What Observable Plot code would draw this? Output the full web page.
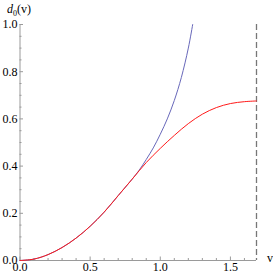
<!DOCTYPE html>
<html>
<head>
<meta charset="utf-8">
<script src="https://cdn.jsdelivr.net/npm/d3@7"></script>
<script src="https://cdn.jsdelivr.net/npm/@observablehq/plot@0.6"></script>
<style>
  html, body { margin: 0; padding: 0; background: #fff; }
</style>
</head>
<body>
<div id="chart"></div>
<script>
// Red curve (exact d0)
const vRed = [0, 0.1, 0.2, 0.3, 0.4, 0.5, 0.6, 0.7, 0.8, 0.9, 1.0, 1.1, 1.2, 1.3, 1.4, 1.5, 1.6, 1.686];
const dRed = [0, 0.006, 0.025, 0.055, 0.095, 0.145, 0.205, 0.275, 0.345, 0.415, 0.475, 0.53, 0.58, 0.62, 0.648, 0.665, 0.673, 0.676];
// Blue curve (approximation)
const vBlue = [0, 0.1, 0.2, 0.3, 0.4, 0.5, 0.6, 0.7, 0.8, 0.85, 0.9, 0.95, 1.0, 1.05, 1.1, 1.15, 1.2, 1.231];
const dBlue = [0, 0.006, 0.025, 0.055, 0.095, 0.145, 0.205, 0.275, 0.345, 0.383, 0.428, 0.477, 0.535, 0.6, 0.678, 0.775, 0.9, 1.0];

const vMax = 1.686;
const xMajor = [0, 0.5, 1.0, 1.5];
const xMinor = [0.1, 0.2, 0.3, 0.4, 0.6, 0.7, 0.8, 0.9, 1.1, 1.2, 1.3, 1.4, 1.6];
const yMajor = [0, 0.2, 0.4, 0.6, 0.8, 1.0];
const yMinor = [0.05, 0.1, 0.15, 0.25, 0.3, 0.35, 0.45, 0.5, 0.55, 0.65, 0.7, 0.75, 0.85, 0.9, 0.95];

const red = vRed.map((v, i) => ({v, d: dRed[i]}));
const blue = vBlue.map((v, i) => ({v, d: dBlue[i]}));

const serif = "'Liberation Serif', 'DejaVu Serif', serif";
const axisColor = "#9a9a9a";
const fmt = d3.format(".1f");

const chart = Plot.plot({
  width: 273,
  height: 278,
  marginLeft: 19.5,
  marginRight: 17,
  marginTop: 24,
  marginBottom: 18,
  style: {fontFamily: serif, fontSize: "12px", color: "#000", background: "#fff"},
  x: {domain: [0, vMax], axis: null},
  y: {domain: [0, 1], axis: null},
  marks: [
    Plot.ruleX([vMax], {stroke: "#777", strokeWidth: 1.3, strokeDasharray: "6,3"}),
    Plot.ruleY([0], {stroke: axisColor}),
    Plot.ruleX([0], {stroke: axisColor}),
    Plot.axisX({ticks: xMinor, tickSize: -2, tickFormat: () => "", stroke: axisColor, label: null}),
    Plot.axisX({ticks: xMajor, tickSize: -3.5, tickPadding: 5.5, tickFormat: fmt, stroke: axisColor, fill: "#000", fontFamily: serif, fontSize: 12, label: null}),
    Plot.axisY({ticks: yMinor, tickSize: -2, tickFormat: () => "", stroke: axisColor, label: null}),
    Plot.axisY({ticks: yMajor, tickSize: -3.5, tickPadding: 6, tickFormat: fmt, stroke: axisColor, fill: "#000", fontFamily: serif, fontSize: 12, label: null}),
    Plot.line(blue, {x: "v", y: "d", stroke: "#6868ba", strokeWidth: 1, curve: "catmull-rom"}),
    Plot.line(red, {x: "v", y: "d", stroke: "#ff1a1a", strokeWidth: 1, curve: "catmull-rom"})
  ]
});

const svg = d3.select(chart);
svg.style("overflow", "visible");
// y-axis label d0(v)
const yl = svg.append("text")
  .attr("x", 7).attr("y", 13)
  .attr("text-anchor", "start")
  .attr("font-family", serif)
  .attr("font-size", 12).attr("fill", "#000");
yl.append("tspan").attr("font-style", "italic").text("d");
yl.append("tspan").attr("font-size", 8).attr("dy", 3).text("0");
yl.append("tspan").attr("dy", -3).text("(v)");
// x-axis label v
svg.append("text")
  .attr("x", 267).attr("y", 262)
  .attr("text-anchor", "start")
  .attr("font-family", serif)
  .attr("font-size", 12).attr("fill", "#000")
  .text("v");

document.getElementById("chart").appendChild(chart);
</script>
</body>
</html>
